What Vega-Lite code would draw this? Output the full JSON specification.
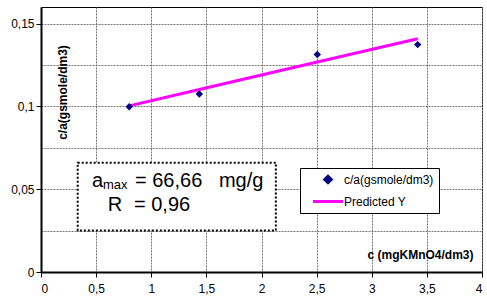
{
  "$schema": "https://vega.github.io/schema/vega-lite/v6.json",
  "width": 441,
  "height": 265,
  "autosize": {"type": "none"},
  "padding": {"left": 41, "top": 7, "right": 5, "bottom": 28},
  "background": "white",
  "config": {
    "font": "Liberation Sans",
    "view": {"stroke": "black", "strokeWidth": 1},
    "axis": {
      "labelFont": "Liberation Sans",
      "labelFontSize": 12,
      "labelColor": "black",
      "titleFont": "Liberation Sans",
      "titleFontSize": 12,
      "titleFontWeight": "bold",
      "titleColor": "black",
      "domainColor": "black",
      "domainWidth": 2,
      "tickColor": "black",
      "tickSize": 5,
      "gridColor": "#777777",
      "gridDash": [2, 1],
      "gridWidth": 1
    },
    "legend": {
      "orient": "none",
      "legendX": 259,
      "legendY": 161,
      "strokeColor": "black",
      "fillColor": "white",
      "padding": 5,
      "labelFont": "Liberation Sans",
      "labelFontSize": 12,
      "labelColor": "black",
      "symbolSize": 100,
      "labelOffset": 26,
      "rowPadding": 6
    }
  },
  "layer": [
    {
      "data": {"values": [{"x1": 0.333, "x2": 2.13, "y1": 0.025, "y2": 0.066}]},
      "mark": {"type": "rect", "fill": "white", "stroke": "black", "strokeWidth": 2, "strokeDash": [2, 2]},
      "encoding": {
        "x": {
          "field": "x1", "type": "quantitative",
          "scale": {"domain": [0, 4], "nice": false, "zero": false},
          "axis": {
            "values": [0, 0.5, 1, 1.5, 2, 2.5, 3, 3.5, 4],
            "labelExpr": "replace(format(datum.value, '~g'), '.', ',')",
            "labelPadding": 6,
            "title": "c (mgKMnO4/dm3)",
            "titleX": 432,
            "titleY": -14,
            "titleAlign": "right",
            "titleBaseline": "alphabetic"
          }
        },
        "x2": {"field": "x2"},
        "y": {
          "field": "y1", "type": "quantitative",
          "scale": {"domain": [0, 0.16], "nice": false, "zero": false},
          "axis": {
            "values": [0, 0.025, 0.05, 0.075, 0.1, 0.125, 0.15],
            "labelExpr": "round(datum.value*1000) % 50 === 0 ? replace(format(datum.value, '~g'), '.', ',') : ''",
            "tickOpacity": {"condition": {"test": "round(datum.value*1000) % 50 === 0", "value": 1}, "value": 0},
            "labelPadding": 2,
            "title": "c/a(gsmole/dm3)",
            "titleX": 21,
            "titleY": 85,
            "titleAlign": "center",
            "titleBaseline": "middle",
            "titleAngle": -90
          }
        },
        "y2": {"field": "y2"}
      }
    },
    {
      "data": {"values": [
        {"c": 0.8, "pred": 0.1003, "series": "Predicted Y"},
        {"c": 1.436, "pred": 0.1102, "series": "Predicted Y"},
        {"c": 2.506, "pred": 0.1268, "series": "Predicted Y"},
        {"c": 3.417, "pred": 0.1408, "series": "Predicted Y"}
      ]},
      "mark": {"type": "line", "strokeWidth": 3},
      "encoding": {
        "x": {"field": "c", "type": "quantitative"},
        "y": {"field": "pred", "type": "quantitative"},
        "color": {
          "field": "series", "type": "nominal",
          "scale": {"domain": ["c/a(gsmole/dm3)", "Predicted Y"], "range": ["#000080", "#FF00FF"]},
          "legend": {
            "title": null,
            "encode": {
              "symbols": {
                "update": {
                  "x": {"value": 23},
                  "shape": [
                    {"test": "datum.value === 'Predicted Y'", "value": "M-3,0L3,0"},
                    {"value": "M0,-0.65L0.65,0L0,0.65L-0.65,0Z"}
                  ],
                  "fill": [
                    {"test": "datum.value === 'Predicted Y'", "value": "transparent"},
                    {"value": "#000080"}
                  ],
                  "stroke": [
                    {"test": "datum.value === 'Predicted Y'", "value": "#FF00FF"},
                    {"value": "transparent"}
                  ],
                  "strokeWidth": {"value": 3},
                  "opacity": {"value": 1},
                  "fillOpacity": {"value": 1},
                  "strokeOpacity": {"value": 1}
                }
              }
            }
          }
        }
      }
    },
    {
      "data": {"values": [
        {"c": 0.8, "ca": 0.0998, "series": "c/a(gsmole/dm3)"},
        {"c": 1.436, "ca": 0.1075, "series": "c/a(gsmole/dm3)"},
        {"c": 2.506, "ca": 0.1313, "series": "c/a(gsmole/dm3)"},
        {"c": 3.417, "ca": 0.1373, "series": "c/a(gsmole/dm3)"}
      ]},
      "mark": {"type": "point", "shape": "diamond", "filled": true, "size": 55, "opacity": 1},
      "encoding": {
        "x": {"field": "c", "type": "quantitative"},
        "y": {"field": "ca", "type": "quantitative"},
        "color": {"field": "series", "type": "nominal"}
      }
    },
    {
      "data": {"values": [
        {"x": 0.4626, "y": 0.0513, "label": "a"},
        {"x": 0.8526, "y": 0.0513, "label": "= 66,66\u00a0\u00a0\u00a0mg/g"},
        {"x": 0.605, "y": 0.037, "label": "R"},
        {"x": 0.8435, "y": 0.037, "label": "= 0,96"}
      ]},
      "mark": {"type": "text", "font": "Liberation Sans", "fontSize": 20, "align": "left", "baseline": "alphabetic", "color": "black"},
      "encoding": {
        "x": {"field": "x", "type": "quantitative"},
        "y": {"field": "y", "type": "quantitative"},
        "text": {"field": "label"}
      }
    },
    {
      "data": {"values": [{"x": 0.5624, "y": 0.0504, "label": "max"}]},
      "mark": {"type": "text", "font": "Liberation Sans", "fontSize": 13, "align": "left", "baseline": "alphabetic", "color": "black"},
      "encoding": {
        "x": {"field": "x", "type": "quantitative"},
        "y": {"field": "y", "type": "quantitative"},
        "text": {"field": "label"}
      }
    }
  ]
}
